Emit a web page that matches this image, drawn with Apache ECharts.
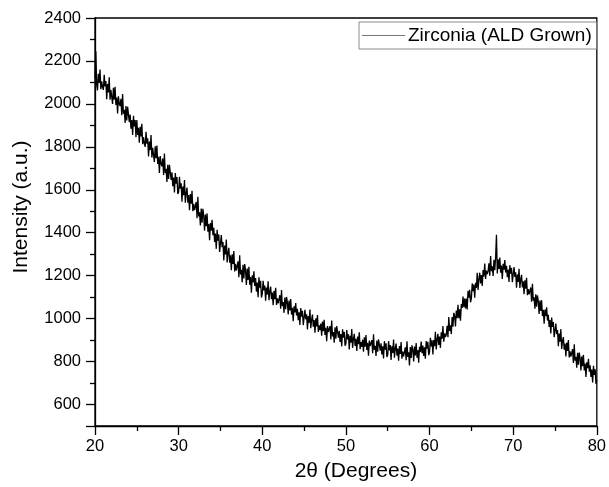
<!DOCTYPE html>
<html>
<head>
<meta charset="utf-8">
<script src="https://cdn.jsdelivr.net/npm/echarts@6/dist/echarts.min.js"></script>
<style>html,body{margin:0;padding:0;background:#fff}#c{width:609px;height:487px}</style>
</head>
<body>
<div id="c"></div>
<script>
// Measurement grid: 2-theta from 20 to 80 degrees, 0.1 degree step
const thetaStart = 20;
const thetaStep = 0.1;
// Intensity (a.u.), one value per step (10 per degree)
const intensity = [
 2120, 2245, 2090, 2063, 2140, 2098, 2160, 2068, 2105, 2078,
 2065, 2136, 2081, 2107, 2022, 2093, 2053, 2124, 2019, 2065,
 2070, 2000, 2075, 2020, 2080, 1995, 2030, 1955, 2035, 2000,
 1990, 2024, 1947, 2046, 1954, 1973, 1911, 1990, 1923, 1987,
 1985, 1915, 1950, 1885, 1925, 1855, 1945, 1895, 1925, 1845,
 1925, 1855, 1889, 1819, 1893, 1848, 1907, 1812, 1846, 1816,
 1800, 1870, 1815, 1840, 1755, 1825, 1785, 1855, 1750, 1795,
 1800, 1729, 1803, 1747, 1806, 1720, 1754, 1678, 1757, 1721,
 1710, 1745, 1669, 1769, 1678, 1698, 1637, 1717, 1651, 1716,
 1715, 1646, 1681, 1617, 1657, 1588, 1678, 1629, 1659, 1580,
 1590, 1660, 1605, 1630, 1545, 1615, 1575, 1645, 1540, 1585,
 1610, 1540, 1575, 1505, 1580, 1535, 1595, 1500, 1535, 1505,
 1510, 1544, 1468, 1567, 1476, 1495, 1434, 1513, 1447, 1511,
 1480, 1410, 1485, 1430, 1490, 1405, 1440, 1365, 1445, 1410,
 1460, 1389, 1423, 1357, 1396, 1325, 1414, 1363, 1392, 1311,
 1320, 1389, 1333, 1357, 1271, 1340, 1299, 1368, 1262, 1306,
 1330, 1260, 1295, 1225, 1300, 1255, 1315, 1220, 1255, 1225,
 1230, 1267, 1193, 1295, 1206, 1228, 1169, 1251, 1187, 1254,
 1225, 1157, 1233, 1180, 1241, 1158, 1194, 1121, 1202, 1169,
 1220, 1152, 1189, 1126, 1168, 1100, 1192, 1144, 1176, 1098,
 1114, 1176, 1131, 1154, 1083, 1145, 1112, 1174, 1086, 1127,
 1149, 1091, 1122, 1063, 1129, 1091, 1144, 1064, 1095, 1071,
 1076, 1109, 1046, 1133, 1058, 1077, 1027, 1098, 1044, 1101,
 1077, 1019, 1084, 1038, 1091, 1019, 1051, 988, 1057, 1029,
 1073, 1015, 1046, 993, 1029, 971, 1049, 1009, 1036, 970,
 979, 1041, 997, 1020, 950, 1012, 980, 1042, 955, 996,
 1019, 962, 993, 935, 1001, 964, 1017, 938, 969, 946,
 977, 920, 986, 941, 995, 924, 957, 895, 965, 938,
 931, 965, 903, 991, 917, 937, 888, 960, 907, 965,
 968, 911, 943, 891, 928, 871, 950, 911, 939, 874,
 884, 947, 903, 927, 857, 920, 888, 951, 864, 906,
 929, 873, 906, 849, 917, 881, 936, 858, 891, 869,
 902, 846, 913, 869, 924, 854, 888, 827, 898, 872,
 866, 900, 839, 927, 854, 874, 826, 898, 846, 904,
 908, 851, 885, 833, 871, 815, 895, 856, 885, 821,
 832, 895, 852, 877, 808, 871, 840, 903, 818, 860,
 884, 828, 861, 804, 872, 836, 891, 813, 846, 824,
 831, 866, 806, 894, 822, 843, 782, 868, 817, 876,
 855, 801, 870, 829, 886, 818, 854, 795, 869, 845,
 893, 839, 875, 826, 867, 813, 896, 860, 892, 830,
 844, 911, 871, 899, 833, 900, 872, 939, 856, 902,
 929, 878, 916, 864, 937, 906, 966, 893, 931, 914,
 926, 967, 913, 1008, 942, 969, 928, 1007, 962, 1027,
 1012, 964, 1038, 1002, 1064, 1002, 1043, 990, 1068, 1050,
 1103, 1053, 1093, 1048, 1093, 1043, 1130, 1098, 1134, 1076,
 1094, 1164, 1128, 1159, 1097, 1167, 1143, 1213, 1134, 1183,
 1214, 1164, 1203, 1152, 1226, 1196, 1257, 1185, 1224, 1208,
 1221, 1258, 1200, 1291, 1221, 1244, 1199, 1274, 1225, 1286,
 1390, 1210, 1276, 1231, 1285, 1214, 1247, 1185, 1255, 1228,
 1273, 1215, 1246, 1193, 1229, 1171, 1249, 1209, 1236, 1170,
 1179, 1240, 1194, 1216, 1144, 1205, 1171, 1232, 1143, 1183,
 1204, 1145, 1174, 1114, 1178, 1139, 1190, 1109, 1138, 1113,
 1116, 1145, 1079, 1162, 1084, 1099, 1046, 1113, 1056, 1109,
 1082, 1022, 1084, 1036, 1086, 1012, 1041, 976, 1042, 1012,
 1053, 991, 1018, 961, 993, 931, 1005, 961, 984, 914,
 919, 977, 928, 947, 872, 930, 893, 951, 859, 896,
 914, 855, 884, 824, 888, 849, 900, 819, 848, 823,
 826, 858, 794, 880, 804, 822, 771, 841, 786, 842,
 817, 759, 824, 778, 831, 759, 791, 728, 797, 769,
 813, 753, 783, 728, 763, 703, 780, 738, 764, 696,
 715
];
const seriesName = 'Zirconia (ALD Grown)';
const xTickLabels = [20, 30, 40, 50, 60, 70, 80];
const yTickLabels = [600, 800, 1000, 1200, 1400, 1600, 1800, 2000, 2200, 2400];
const yMajorTicks = [500, 600, 800, 1000, 1200, 1400, 1600, 1800, 2000, 2200, 2400];
const yMinorTicks = [700, 900, 1100, 1300, 1500, 1700, 1900, 2100, 2300];

const points = intensity.map((v, i) => [+(thetaStart + i * thetaStep).toFixed(2), v]);
const FONT = 'Liberation Sans, Arial, sans-serif';
const plain = v => String(v);

const chart = echarts.init(document.getElementById('c'), null, {renderer: 'canvas'});
chart.setOption({
  animation: false,
  backgroundColor: '#fff',
  grid: {left: 95, right: 8, top: 18, bottom: 60, show: true, borderColor: '#000', borderWidth: 1.3, backgroundColor: 'transparent'},
  legend: {
    left: 359, top: 22,
    padding: [4, 5, 4, 3],
    borderColor: '#8a8a8a', borderWidth: 1,
    itemWidth: 43, itemHeight: 1,
    data: [{name: seriesName, icon: 'rect', itemStyle: {color: '#777'}}],
    textStyle: {fontFamily: FONT, fontSize: 19, color: '#000', padding: [0, 0, 0, -2]}
  },
  xAxis: {
    type: 'value', min: 20, max: 80, interval: 10,
    name: '2θ (Degrees)', nameLocation: 'middle', nameGap: 35,
    nameTextStyle: {fontFamily: FONT, fontSize: 21, color: '#000', padding: [0, 0, 0, 20]},
    axisLine: {lineStyle: {color: '#000', width: 1.3}},
    axisTick: {inside: false, length: 9, lineStyle: {color: '#000', width: 1.3}},
    minorTick: {show: true, splitNumber: 2, length: 5, lineStyle: {color: '#000', width: 1.3}},
    axisLabel: {fontFamily: FONT, fontSize: 16.5, color: '#000', margin: 12,
      customValues: xTickLabels, formatter: plain},
    splitLine: {show: false}
  },
  yAxis: [{
    type: 'value', min: 500, max: 2400,
    name: 'Intensity (a.u.)', nameLocation: 'middle', nameGap: 63,
    nameTextStyle: {fontFamily: FONT, fontSize: 21, color: '#000', padding: [0, 0, 0, 30]},
    axisLine: {lineStyle: {color: '#000', width: 1.3}},
    axisTick: {inside: false, length: 9, lineStyle: {color: '#000', width: 1.3}, customValues: yMajorTicks},
    axisLabel: {fontFamily: FONT, fontSize: 16.5, color: '#000', margin: 14, customValues: yTickLabels, formatter: plain},
    splitLine: {show: false}
  }, {
    type: 'value', min: 500, max: 2400, position: 'left',
    axisLine: {show: false},
    axisTick: {show: true, inside: false, length: 5, lineStyle: {color: '#000', width: 1.3}, customValues: yMinorTicks},
    axisLabel: {show: false, customValues: yMinorTicks},
    splitLine: {show: false}
  }],
  series: [{
    name: seriesName, type: 'line', data: points,
    showSymbol: false, symbol: 'none',
    lineStyle: {color: '#000', width: 1.3},
    itemStyle: {color: '#000'},
    clip: true
  }]
});
</script>
</body>
</html>
